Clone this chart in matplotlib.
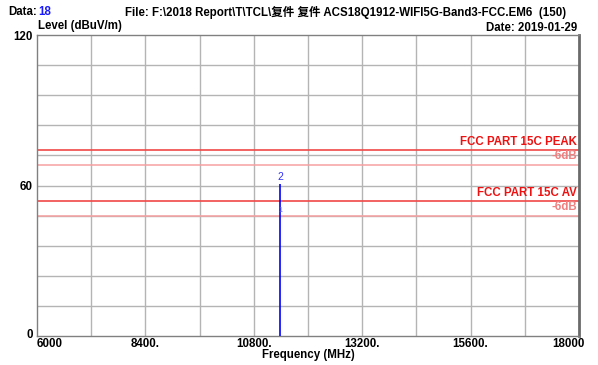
import matplotlib
matplotlib.use("Agg")
import matplotlib.pyplot as plt
import matplotlib.transforms as mtransforms

# ----------------------------
# Dados
# ----------------------------
x_ticks = [6000, 8400, 10800, 13200, 15600, 18000]
x_tick_labels = ["6000", "8400.", "10800.", "13200.", "15600.", "18000"]
y_ticks = [0, 60, 120]
y_tick_labels = ["0", "60", "120"]

marker_ids = ["1", "2"]
marker_freq = [11380, 11380]
marker_level = [50.2, 60.6]

limit_names = ["FCC PART 15C PEAK", "FCC PART 15C AV"]
limit_levels = [74, 54]
margin_db = 6

fonts = ["Liberation Sans", "Noto Sans CJK SC", "DejaVu Sans"]
plt.rcParams["font.family"] = fonts
fs = 8.3

fig = plt.figure(figsize=(5.98, 3.65), dpi=100)
ax = fig.add_axes([37/598, 29/365, 542/598, 301/365])

ax.set_xlim(6000, 18000)
ax.set_ylim(0, 120)

# grade
for gx in range(6000 + 1200, 18000, 1200):
    ax.axvline(gx, color="#b4b4b4", lw=1, zorder=1)
for gy in range(12, 120, 12):
    ax.axhline(gy, color="#b4b4b4", lw=1, zorder=1)

# limites
for name, lv in zip(limit_names, limit_levels):
    ax.axhline(lv, color="#f04848", lw=1.2, zorder=2)
    ax.axhline(lv - margin_db, color="#f7a0a0", lw=1.1, zorder=2)
    ax.text(17960, lv + 0.8, name, color="#ee1111", fontsize=fs,
            fontweight="bold", ha="right", va="bottom", zorder=3)
    ax.text(17960, lv - margin_db + 1.2, f"-{margin_db}dB", color="#f08080",
            fontsize=fs, fontweight="bold", ha="right", va="bottom", zorder=3)

# traço medido
ax.vlines(marker_freq[1], 0, marker_level[1], color="#0000ff", lw=1.2, zorder=4)
ax.text(marker_freq[1], marker_level[1] + 0.8, marker_ids[1], color="#3030ff",
        fontsize=7.5, ha="center", va="bottom", zorder=5)
ax.text(marker_freq[0], marker_level[0], marker_ids[0], color="#6060ff",
        fontsize=5, ha="center", va="center", zorder=5)

# eixos
ax.set_xticks(x_ticks)
ax.set_xticklabels(x_tick_labels, fontsize=fs, fontweight="bold")
ax.set_yticks(y_ticks)
ax.set_yticklabels(y_tick_labels, fontsize=fs, fontweight="bold")
ax.tick_params(axis="x", length=0, pad=1.5)
ax.tick_params(axis="y", length=0, pad=3)
labs = ax.get_xticklabels()
labs[0].set_ha("left")
labs[-1].set_ha("right")
labs[-1].set_transform(labs[-1].get_transform() +
                       mtransforms.ScaledTranslation(6/100, 0, fig.dpi_scale_trans))
ylabs = ax.get_yticklabels()
ylabs[0].set_transform(ylabs[0].get_transform() +
                       mtransforms.ScaledTranslation(0, 2/100, fig.dpi_scale_trans))

for s in ["left", "bottom", "top"]:
    ax.spines[s].set_color("#808080")
    ax.spines[s].set_linewidth(1)
ax.spines["right"].set_color("#6a6a6a")
ax.spines["right"].set_linewidth(2)

# textos
fig.text(8/598, 1 - 12/365, "Data:", fontsize=fs, fontweight="bold", va="center")
fig.text(38/598, 1 - 12/365, "18", fontsize=fs, fontweight="bold", va="center",
         color="#1a1aff")
fig.text(125/598, 1 - 12/365,
         "File: F:\\2018 Report\\T\\TCL\\复件 复件 ACS18Q1912-WIFI5G-Band3-FCC.EM6  (150)",
         fontsize=fs, fontweight="bold", va="center")
fig.text(577/598, 1 - 28/365, "Date: 2019-01-29", fontsize=fs,
         fontweight="bold", va="center", ha="right")
fig.text(38/598, 1 - 26/365, "Level (dBuV/m)", fontsize=fs,
         fontweight="bold", va="center")
fig.text(308/598, 1 - 355/365, "Frequency (MHz)", fontsize=fs,
         fontweight="bold", va="center", ha="center")

fig.savefig("out.png", dpi=100)
